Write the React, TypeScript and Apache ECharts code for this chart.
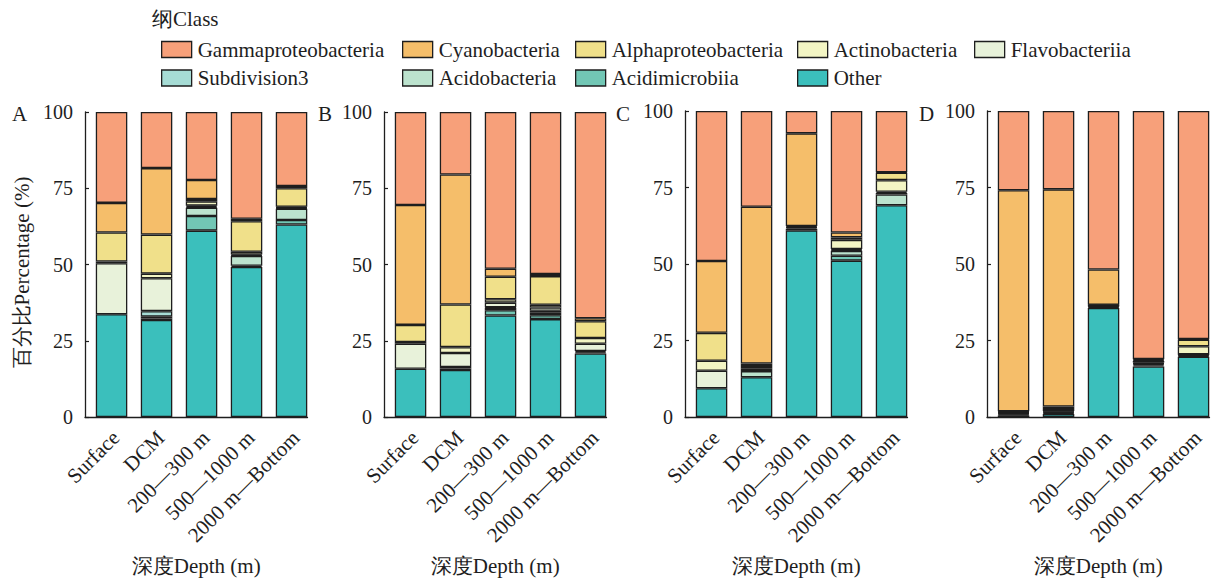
import React, { useEffect, useRef } from 'react';
import * as echarts from 'echarts';

// ---------- data ----------
const categories = ['Surface', 'DCM', '200—300 m', '500—1000 m', '2000 m—Bottom'];
// stack order: bottom -> top
const classNames = [
  'Other',
  'Acidimicrobiia',
  'Acidobacteria',
  'Subdivision3',
  'Flavobacteriia',
  'Actinobacteria',
  'Alphaproteobacteria',
  'Cyanobacteria',
  'Gammaproteobacteria',
];
const yTicks = [0, 25, 50, 75, 100];
const panelLabels = ['A', 'B', 'C', 'D'];
const legendTitle = '纲Class';
const xAxisTitle = '深度Depth (m)';
const yAxisTitle = '百分比Percentage (%)';

// rows follow classNames, columns follow categories
const valuesA = [
  [33.7, 31.8, 61.1, 49.2, 63.1],
  [0, 0.5, 4.8, 0.4, 1.5],
  [0, 0.6, 2.7, 3.2, 3.7],
  [0, 1.8, 0.3, 0.2, 0.2],
  [16.7, 10.8, 0.4, 0.3, 0.2],
  [0.6, 1.5, 1.4, 0.9, 0.2],
  [9.5, 12.8, 0.8, 10.0, 6.1],
  [9.7, 21.8, 6.2, 0.8, 0.7],
  [29.8, 18.4, 22.3, 35.0, 24.3],
];
const valuesB = [
  [15.8, 15.4, 33.3, 32.1, 20.8],
  [0, 0.5, 1.7, 1.3, 0.4],
  [0, 0.5, 0.8, 0.8, 0.4],
  [0, 0, 0.2, 0.6, 0],
  [8.2, 4.6, 1.5, 1.1, 2.4],
  [0.6, 1.9, 1.1, 0.9, 1.9],
  [5.6, 14.0, 7.4, 9.4, 5.5],
  [39.3, 42.6, 2.6, 0.7, 1.0],
  [30.5, 20.5, 51.4, 53.1, 67.6],
];
const valuesC = [
  [9.4, 13.0, 61.0, 51.1, 69.2],
  [0, 0, 0.5, 1.6, 0],
  [0, 2.0, 0.4, 1.6, 3.5],
  [0, 0, 0, 0.3, 0.5],
  [5.7, 0.9, 0, 0.3, 0.4],
  [3.3, 0.8, 0.2, 3.0, 3.8],
  [9.1, 0.8, 0.3, 0.8, 2.4],
  [23.5, 51.2, 30.3, 1.6, 0.2],
  [49.0, 31.3, 7.3, 39.7, 20.0],
];
const valuesD = [
  [0.5, 1.0, 35.6, 16.5, 19.7],
  [0.3, 0.3, 0.3, 0.4, 0.3],
  [0.3, 0.3, 0.3, 0.4, 0.3],
  [0.2, 0.2, 0.1, 0.2, 0.1],
  [0.2, 0.2, 0.1, 0.3, 0.1],
  [0.2, 0.6, 0.1, 0.5, 2.6],
  [0.2, 0.8, 0.2, 0.3, 2.2],
  [72.2, 71.0, 11.5, 0.3, 0.2],
  [25.9, 25.6, 51.8, 81.1, 74.5],
];
const panels = [valuesA, valuesB, valuesC, valuesD];

// ---------- style ----------
const classColors: Record<string, string> = {
  Other: '#3BBFBC',
  Acidimicrobiia: '#72C7B5',
  Acidobacteria: '#BCE3CE',
  Subdivision3: '#A6DCD5',
  Flavobacteriia: '#E8F2DA',
  Actinobacteria: '#F3F5C4',
  Alphaproteobacteria: '#F0E08A',
  Cyanobacteria: '#F5BE6A',
  Gammaproteobacteria: '#F7A07A',
};
const FONT = "'Liberation Serif', 'Times New Roman', Times, serif";
const INK = '#1e1e1e';
const gridLefts = [85, 384, 685, 987];
const gridTops = [112, 112, 111, 111];
const gridHeights = [309, 309.5, 308, 308];
const gridWidth = 222.5;
const xMin = 0.41;
const xMax = 5.355;
const panelLabelX = [12, 318, 616, 919];
const labelDrop = 12; // top padding that pushes rotated labels right/down
const legendRows = [
  ['Gammaproteobacteria', 'Cyanobacteria', 'Alphaproteobacteria', 'Actinobacteria', 'Flavobacteriia'],
  ['Subdivision3', 'Acidobacteria', 'Acidimicrobiia', 'Other'],
];
const legendCols = [161, 402, 575, 797, 974];
const legendTops = [39, 67.5];

function buildOption() {
  const grid: any[] = [];
  const xAxis: any[] = [];
  const yAxis: any[] = [];
  const series: any[] = [];
  const rich = {
    l: { fontSize: 21, fontFamily: FONT, color: INK, padding: [labelDrop, 0, 0, 0] },
  };

  panels.forEach((vals, p) => {
    grid.push({ left: gridLefts[p], top: gridTops[p], width: gridWidth, height: gridHeights[p], containLabel: false });
    xAxis.push({
      type: 'value',
      gridIndex: p,
      min: xMin,
      max: xMax,
      splitNumber: 5,
      splitLine: { show: false },
      axisTick: { show: false },
      axisLine: { show: true, onZero: false, lineStyle: { color: INK, width: 1.3 } },
      axisLabel: {
        rotate: 45,
        margin: 13,
        showMinLabel: false,
        showMaxLabel: false,
        fontSize: 21,
        fontFamily: FONT,
        color: INK,
        formatter: (v: number) => {
          const r = Math.round(v);
          if (Math.abs(v - r) > 1e-6 || r < 1 || r > categories.length) return '';
          return `{l|${categories[r - 1]}}`;
        },
        rich,
      },
      name: xAxisTitle,
      nameLocation: 'middle',
      nameGap: 138,
      nameTextStyle: { fontSize: 21, fontFamily: FONT, color: INK },
    });
    yAxis.push({
      type: 'value',
      gridIndex: p,
      min: yTicks[0],
      max: yTicks[yTicks.length - 1],
      interval: yTicks[1] - yTicks[0],
      splitLine: { show: false },
      axisLine: { show: true, onZero: false, lineStyle: { color: INK, width: 1.3 } },
      axisTick: { show: true, inside: true, length: 4, lineStyle: { color: INK, width: 1.2 } },
      axisLabel: { fontSize: 20, fontFamily: FONT, color: INK, margin: 12 },
      name: p === 0 ? yAxisTitle : '',
      nameLocation: 'middle',
      nameGap: 53,
      nameTextStyle: { fontSize: 21, fontFamily: FONT, color: INK, padding: [0, 16, 0, 0] },
    });
    classNames.forEach((cls, c) => {
      series.push({
        type: 'bar',
        name: cls,
        stack: 'panel' + p,
        xAxisIndex: p,
        yAxisIndex: p,
        barWidth: 31.5,
        // value first so that the percentage dimension is the stacked one
        encode: { x: 1, y: 0 },
        itemStyle: { color: classColors[cls], borderColor: INK, borderWidth: 1.3 },
        emphasis: { disabled: true },
        data: vals[c].map((v, i) => [v === 0 ? '-' : v, i + 1]),
      });
    });
  });

  const legend: any[] = [];
  legendRows.forEach((row, r) => {
    row.forEach((name, ci) => {
      legend.push({
        data: [name],
        left: legendCols[ci],
        top: legendTops[r],
        padding: 0,
        itemWidth: 30,
        itemHeight: 16,
        icon: 'rect',
        selectedMode: false,
        itemStyle: { borderColor: INK, borderWidth: 1.3 },
        textStyle: { fontSize: 21, fontFamily: FONT, color: INK, padding: [0, 0, 0, 1] },
      });
    });
  });

  const graphic: any[] = [
    {
      type: 'text',
      left: 152,
      top: 8,
      style: { text: legendTitle, fontSize: 21, fontFamily: FONT, fill: INK },
    },
    ...panelLabels.map((t, i) => ({
      type: 'text',
      left: panelLabelX[i],
      top: 103,
      style: { text: t, fontSize: 21, fontFamily: FONT, fill: INK },
    })),
  ];

  return {
    animation: false,
    backgroundColor: '#ffffff',
    textStyle: { fontFamily: FONT },
    grid,
    xAxis,
    yAxis,
    series,
    legend,
    graphic,
  };
}

export default function App() {
  const ref = useRef<HTMLDivElement>(null);
  useEffect(() => {
    if (!ref.current) return;
    const chart = echarts.init(ref.current, undefined, { renderer: 'svg' });
    chart.setOption(buildOption() as any);
    return () => chart.dispose();
  }, []);
  return (
    <div
      ref={ref}
      style={{ position: 'absolute', left: 0, top: 0, width: 1213, height: 581, background: '#fff' }}
    />
  );
}
